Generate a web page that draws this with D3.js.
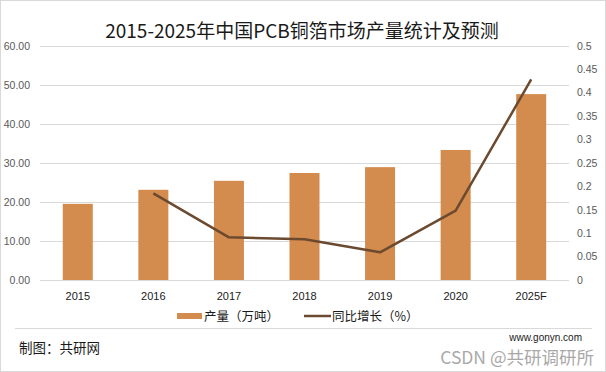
<!DOCTYPE html>
<html>
<head>
<meta charset="utf-8">
<script src="https://cdn.jsdelivr.net/npm/d3@7/dist/d3.min.js"></script>
<style>
  html, body { margin: 0; padding: 0; background: #fff; }
  svg { display: block; }
</style>
</head>
<body>
<svg id="chart" width="606" height="372"></svg>
<script>
  // chart data
  const years = ['2015', '2016', '2017', '2018', '2019', '2020', '2025F'];
  const output = [19.5, 23.1, 25.4, 27.4, 28.9, 33.3, 47.6];
  const growth = [null, 0.185, 0.091, 0.087, 0.059, 0.148, 0.428];
  const leftTicks = [0, 10, 20, 30, 40, 50, 60];
  const rightTicks = [0, 0.05, 0.1, 0.15, 0.2, 0.25, 0.3, 0.35, 0.4, 0.45, 0.5];

  const W = 606, H = 372;
  const m = {left: 40, right: 37, top: 45.7, bottom: 92};
  const barColor = '#D38B4E';
  const lineColor = '#6B4A30';
  const gridColor = '#D9D9D9';
  const cjk = '"Noto Sans CJK SC", "Noto Sans", sans-serif';
  const num = '"Liberation Sans", Arial, sans-serif';

  const svg = d3.select('#chart');

  // outer frame
  svg.append('rect')
    .attr('x', 0.5).attr('y', 0.5)
    .attr('width', W - 1).attr('height', H - 1)
    .attr('fill', '#fff')
    .attr('stroke', gridColor);

  const x = d3.scaleBand()
    .domain(years)
    .range([m.left, W - m.right]);

  const yL = d3.scaleLinear()
    .domain([0, 60])
    .range([H - m.bottom, m.top]);

  const yR = d3.scaleLinear()
    .domain([0, 0.5])
    .range([H - m.bottom, m.top]);

  // title
  svg.append('text')
    .attr('x', 302)
    .attr('y', 38)
    .attr('text-anchor', 'middle')
    .attr('font-family', cjk)
    .attr('font-size', 19)
    .attr('fill', '#1a1a1a')
    .text('2015-2025年中国PCB铜箔市场产量统计及预测');

  // gridlines
  svg.append('g')
    .selectAll('line')
    .data(leftTicks)
    .join('line')
    .attr('x1', m.left)
    .attr('x2', W - m.right)
    .attr('y1', d => Math.round(yL(d)) + 0.5)
    .attr('y2', d => Math.round(yL(d)) + 0.5)
    .attr('stroke', gridColor)
    .attr('stroke-width', 1);

  // left axis
  const leftAxis = svg.append('g')
    .attr('transform', `translate(${m.left - 10},0)`)
    .call(d3.axisLeft(yL).tickValues(leftTicks).tickFormat(d3.format('.2f')).tickSize(0).tickPadding(0));
  leftAxis.select('.domain').remove();
  leftAxis.selectAll('text')
    .attr('font-family', num)
    .attr('font-size', 10.5)
    .attr('fill', '#595959');

  // right axis
  const rightAxis = svg.append('g')
    .attr('transform', `translate(${W - m.right + 8},0)`)
    .call(d3.axisRight(yR).tickValues(rightTicks).tickFormat(d => d3.format('')(+d.toFixed(2))).tickSize(0).tickPadding(0));
  rightAxis.select('.domain').remove();
  rightAxis.selectAll('text')
    .attr('font-family', num)
    .attr('font-size', 10.5)
    .attr('fill', '#595959');

  // bars
  const barW = 30;
  svg.append('g')
    .selectAll('rect')
    .data(output)
    .join('rect')
    .attr('x', (d, i) => x(years[i]) + x.bandwidth() / 2 - barW / 2)
    .attr('y', d => yL(d))
    .attr('width', barW)
    .attr('height', d => yL(0) - yL(d))
    .attr('fill', barColor);

  // x axis labels
  const bottomAxis = svg.append('g')
    .attr('transform', `translate(0,${H - m.bottom})`)
    .call(d3.axisBottom(x).tickSize(0).tickPadding(12));
  bottomAxis.select('.domain').remove();
  bottomAxis.selectAll('text')
    .attr('font-family', num)
    .attr('font-size', 11)
    .attr('fill', '#1a1a1a');

  // growth line
  const pts = years.map((y, i) => ({y, v: growth[i]})).filter(p => p.v !== null);
  const line = d3.line()
    .x(p => x(p.y) + x.bandwidth() / 2)
    .y(p => yR(p.v));

  svg.append('path')
    .datum(pts)
    .attr('d', line)
    .attr('fill', 'none')
    .attr('stroke', lineColor)
    .attr('stroke-width', 2.5)
    .attr('stroke-linejoin', 'round');

  // legend
  const lg = svg.append('g').attr('transform', 'translate(0,316)');
  lg.append('rect')
    .attr('x', 177).attr('y', -3)
    .attr('width', 25).attr('height', 6)
    .attr('fill', barColor);
  lg.append('text')
    .attr('x', 204).attr('y', 4.5)
    .attr('font-family', cjk).attr('font-size', 12.5)
    .attr('fill', '#1a1a1a')
    .text('产量（万吨）');
  lg.append('line')
    .attr('x1', 304).attr('x2', 331)
    .attr('y1', 0).attr('y2', 0)
    .attr('stroke', lineColor).attr('stroke-width', 2.5);
  lg.append('text')
    .attr('x', 332).attr('y', 4.5)
    .attr('font-family', cjk).attr('font-size', 12.5)
    .attr('fill', '#1a1a1a')
    .text('同比增长（%）');

  // footer
  svg.append('line')
    .attr('x1', 15).attr('x2', 592)
    .attr('y1', 328.5).attr('y2', 328.5)
    .attr('stroke', gridColor);

  svg.append('text')
    .attr('x', 19).attr('y', 353)
    .attr('font-family', cjk).attr('font-size', 13.5)
    .attr('fill', '#1a1a1a')
    .text('制图：共研网');

  svg.append('text')
    .attr('x', 582).attr('y', 341)
    .attr('text-anchor', 'end')
    .attr('font-family', num).attr('font-size', 10)
    .attr('fill', '#1a1a1a')
    .text('www.gonyn.com');

  // watermark
  svg.append('text')
    .attr('x', 594).attr('y', 364)
    .attr('text-anchor', 'end')
    .attr('font-family', cjk).attr('font-size', 17.5)
    .attr('fill', '#9a9a9a')
    .attr('opacity', 0.85)
    .text('CSDN @共研调研所');
</script>
</body>
</html>
